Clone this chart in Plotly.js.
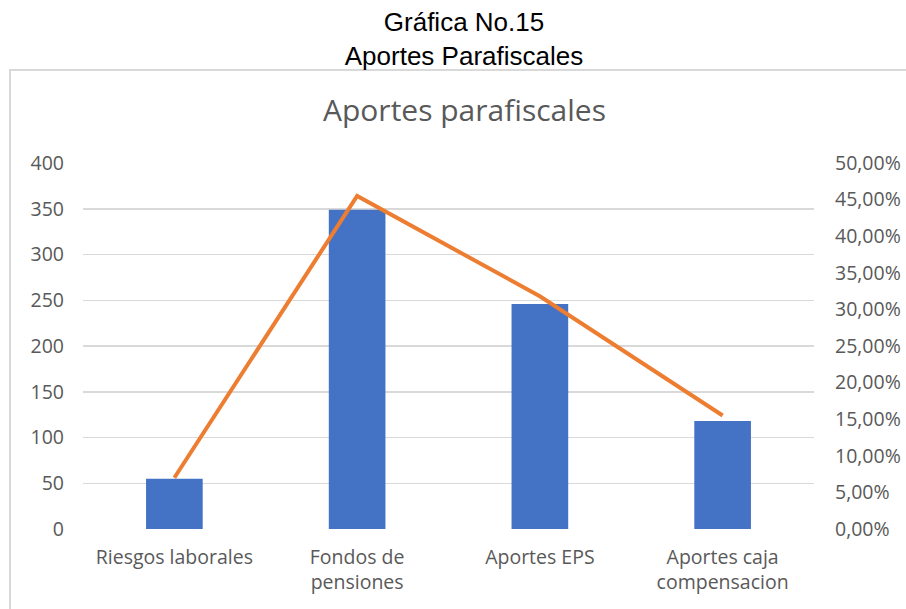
<!DOCTYPE html>
<html>
<head>
<meta charset="utf-8">
<script src="https://cdn.plot.ly/plotly-3.0.1.min.js"></script>
<style>
  html, body { margin: 0; padding: 0; background: #ffffff; }
  #wrap { position: relative; width: 906px; height: 609px; overflow: hidden; }
  #frame { position: absolute; left: 9px; top: 69px; width: 910px; height: 560px; border: 2px solid #d9d9d9; box-sizing: border-box; pointer-events: none; }
  #chart { position: absolute; left: 0; top: 0; width: 906px; height: 609px; }
</style>
</head>
<body>
<div id="wrap">
  <div id="frame"></div>
  <div id="chart"></div>
</div>
<script>
const categories = ["Riesgos laborales", "Fondos de<br>pensiones", "Aportes EPS", "Aportes caja<br>compensacion"];
const amounts = [55, 349, 246, 118];
const shares = [0.070, 0.455, 0.318, 0.155];
const leftTicks = [0, 50, 100, 150, 200, 250, 300, 350, 400];
const rightTicks = [0, 0.05, 0.10, 0.15, 0.20, 0.25, 0.30, 0.35, 0.40, 0.45, 0.50];

const tickFont = { family: "Open Sans, Noto Sans, sans-serif", size: 19.5, color: "#595959" };

const traces = [
  {
    type: "bar",
    x: categories,
    y: amounts,
    marker: { color: "#4472C4" },
    yaxis: "y",
    hoverinfo: "x+y"
  },
  {
    type: "scatter",
    mode: "lines",
    x: categories,
    y: shares,
    line: { color: "#ED7D31", width: 4 },
    yaxis: "y2"
  }
];

const layout = {
  width: 906,
  height: 609,
  margin: { l: 83, r: 92, t: 163, b: 80 },
  paper_bgcolor: "rgba(0,0,0,0)",
  plot_bgcolor: "rgba(0,0,0,0)",
  showlegend: false,
  separators: ",.",
  bargap: 0.69,
  title: {
    text: "Gráfica No.15<br>Aportes Parafiscales",
    font: { family: "Liberation Sans, Arial, sans-serif", size: 26, color: "#000000" },
    x: 464 / 906, xanchor: "center",
    y: 1 - 31 / 609, yanchor: "middle",
    yref: "container"
  },
  annotations: [
    {
      text: "Aportes parafiscales",
      xref: "paper", yref: "paper",
      x: (464 - 83) / 731, y: 1 + (163 - 110) / 366,
      xanchor: "center", yanchor: "middle",
      showarrow: false,
      font: { family: "Open Sans, Noto Sans, sans-serif", size: 30, color: "#595959" }
    }
  ],
  xaxis: {
    type: "category",
    tickfont: tickFont,
    showgrid: false,
    showline: false,
    ticks: "",
    ticklabelstandoff: 14,
    fixedrange: true
  },
  yaxis: {
    range: [0, 400],
    tickvals: leftTicks,
    ticktext: leftTicks.map(String),
    tickfont: tickFont,
    showgrid: true,
    gridcolor: "#d9d9d9",
    gridwidth: 1.5,
    zeroline: false,
    showline: false,
    ticks: "",
    ticklabelstandoff: 18,
    fixedrange: true
  },
  yaxis2: {
    overlaying: "y",
    side: "right",
    range: [0, 0.5],
    tickvals: rightTicks,
    tickformat: ".2%",
    tickfont: tickFont,
    showgrid: false,
    zeroline: false,
    showline: false,
    ticks: "",
    ticklabelstandoff: 20,
    fixedrange: true
  }
};

Plotly.newPlot("chart", traces, layout, { displayModeBar: false, staticPlot: true });
</script>
</body>
</html>
